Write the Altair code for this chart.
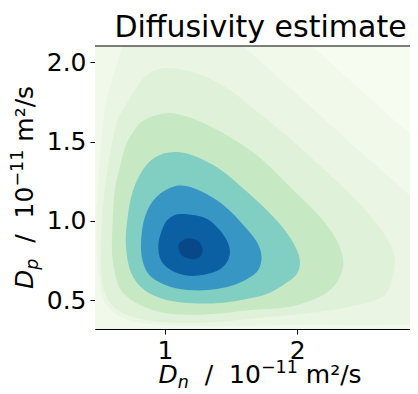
import altair as alt
import pandas as pd

# ---- data (data units: 1e-11 m^2/s) ----
x_domain = [0.471, 2.852]
y_domain = [0.319, 2.103]
x_ticks = [1, 2]
y_ticks = [0.5, 1.0, 1.5, 2.0]

background_color = "#f7fcf0"

# contour bands, outermost first
L8_x = [1.90, 2.096, 2.50, 2.912, 3.20, 3.20, 0.00, 0.00]
L8_y = [2.30, 2.115, 1.81, 1.504, 1.28, 0.00, 0.00, 2.30]

L7_x = [0.683, 0.75, 1.30, 1.590, 1.869, 2.497, 2.912, 3.15, 3.25, 3.10, 2.60, 2.00, 1.20, 0.75, 0.56, 0.506, 0.481, 0.494, 0.516, 0.554, 0.607]
L7_y = [2.115, 2.25, 2.30, 2.103, 1.895, 1.422, 1.113, 0.88, 0.60, 0.38, 0.345, 0.345, 0.338, 0.37, 0.47, 0.628, 0.943, 1.195, 1.485, 1.737, 1.907]

L6_x = [1.035, 1.287, 1.491, 1.642, 1.869, 2.071, 2.398, 2.599, 2.713, 2.738, 2.713, 2.647, 2.398, 2.071, 1.693, 1.441, 1.212, 0.937, 0.736, 0.610, 0.547, 0.519, 0.519, 0.544, 0.584, 0.635, 0.708, 0.859]
L6_y = [1.964, 1.916, 1.826, 1.727, 1.574, 1.426, 1.170, 0.985, 0.838, 0.733, 0.628, 0.523, 0.460, 0.418, 0.387, 0.366, 0.355, 0.366, 0.401, 0.460, 0.544, 0.670, 0.943, 1.191, 1.426, 1.616, 1.737, 1.916]

L5_x = [1.060, 1.239, 1.441, 1.693, 1.945, 2.171, 2.297, 2.348, 2.310, 2.196, 1.945, 1.642, 1.441, 1.212, 0.987, 0.811, 0.685, 0.635, 0.602, 0.602, 0.620, 0.660, 0.708, 0.811, 0.937]
L5_y = [1.679, 1.637, 1.553, 1.416, 1.216, 1.027, 0.880, 0.744, 0.628, 0.534, 0.460, 0.439, 0.418, 0.408, 0.422, 0.471, 0.544, 0.628, 0.775, 0.943, 1.191, 1.342, 1.485, 1.616, 1.668]

L4_x = [1.111, 1.264, 1.441, 1.617, 1.793, 1.932, 2.015, 2.000, 1.894, 1.768, 1.642, 1.441, 1.212, 1.013, 0.849, 0.746, 0.705, 0.715, 0.758, 0.849, 0.962]
L4_y = [1.433, 1.395, 1.311, 1.185, 1.048, 0.912, 0.775, 0.670, 0.597, 0.540, 0.513, 0.485, 0.481, 0.502, 0.561, 0.670, 0.838, 1.006, 1.191, 1.342, 1.416]

L3_x = [1.101, 1.264, 1.441, 1.592, 1.693, 1.730, 1.705, 1.642, 1.542, 1.390, 1.214, 1.038, 0.899, 0.836, 0.819, 0.849, 0.937]
L3_y = [1.223, 1.191, 1.101, 0.975, 0.870, 0.775, 0.691, 0.645, 0.603, 0.571, 0.563, 0.586, 0.645, 0.733, 0.859, 1.027, 1.153]

L2_x = [1.126, 1.290, 1.390, 1.466, 1.491, 1.453, 1.365, 1.214, 1.076, 0.975, 0.950, 0.987, 1.038]
L2_y = [1.044, 1.023, 0.964, 0.880, 0.796, 0.723, 0.676, 0.653, 0.676, 0.744, 0.849, 0.964, 1.021]

L1_x = [1.285, 1.255, 1.180, 1.120, 1.101, 1.130, 1.205, 1.265]
L1_y = [0.815, 0.870, 0.891, 0.870, 0.835, 0.780, 0.759, 0.775]

band_colors = ["#f1f9eb", "#eaf6e3", "#dff2d9", "#c6e9c3", "#81cec2", "#3896c5", "#0b60a4", "#084889"]
bands = [(L8_x, L8_y), (L7_x, L7_y), (L6_x, L6_y), (L5_x, L5_y),
         (L4_x, L4_y), (L3_x, L3_y), (L2_x, L2_y), (L1_x, L1_y)]

title_text = "Diffusivity estimate"

FONT = "DejaVu Sans"
W, H = 315, 283

x_enc = alt.X("x:Q", scale=alt.Scale(domain=x_domain, nice=False, zero=False),
              axis=alt.Axis(values=x_ticks, format="d", title=None))
y_enc = alt.Y("y:Q", scale=alt.Scale(domain=y_domain, nice=False, zero=False),
              axis=alt.Axis(values=y_ticks, format=".1f", title=None))

layers = []
for k, ((bx, by), col) in enumerate(zip(bands, band_colors)):
    df = pd.DataFrame({"x": bx, "y": by, "i": list(range(len(bx)))})
    interp = "linear-closed" if k == 0 else "cardinal-closed"
    layers.append(
        alt.Chart(df).mark_line(filled=True, interpolate=interp, clip=True,
                                color=col, strokeWidth=0)
        .encode(x=x_enc, y=y_enc, order=alt.Order("i:Q"))
    )

# top spine
layers.append(alt.Chart().mark_rule(color="#000", strokeWidth=1).encode(
    x=alt.value(0), x2=alt.value(W), y=alt.value(0)))


def txt(text, x, y, size=25, italic=False, angle=0, align="left"):
    kw = dict(font=FONT, fontSize=size, color="#000", align=align,
              baseline="alphabetic", angle=angle)
    if italic:
        kw["fontStyle"] = "italic"
    return alt.Chart().mark_text(**kw).encode(
        x=alt.value(x), y=alt.value(y), text=alt.value(text))


# title
layers.append(txt(title_text, 165.5, -8.7, size=30, align="center"))

# x axis title pieces
bx0, bl = 63.5, 337.3
layers += [
    txt("D", bx0, bl, italic=True),
    txt("n", bx0 + 19.3, bl + 4.5, size=17.5, italic=True),
    txt("/", bx0 + 46.3, bl),
    txt("10", bx0 + 70.6, bl),
    txt("\u221211", bx0 + 102.4, bl - 10, size=17.5),
    txt("m\u00b2/s", bx0 + 147.3, bl),
]

# y axis title pieces (rotated, reading upward)
yx, ys0 = -62, 243
layers += [
    txt("D", yx, ys0, italic=True, angle=270),
    txt("p", yx + 4.5, ys0 - 19.3, size=17.5, italic=True, angle=270),
    txt("/", yx, ys0 - 46.3, angle=270),
    txt("10", yx, ys0 - 70.6, angle=270),
    txt("\u221211", yx - 10, ys0 - 102.4, size=17.5, angle=270),
    txt("m\u00b2/s", yx, ys0 - 147.3, angle=270),
]

chart = (
    alt.layer(*layers)
    .properties(width=W, height=H,
                padding={"left": 87, "top": 38, "right": 0, "bottom": 65},
                autosize=alt.AutoSizeParams(type="none"))
    .configure_view(fill=background_color, stroke=None)
    .configure_axis(labelFont=FONT, labelFontSize=25, labelColor="#000",
                    tickColor="#000", domainColor="#000", tickSize=5,
                    tickWidth=1, domainWidth=1, labelPadding=4, grid=False,
                    labelFlush=False, labelOverlap=False)
)

chart.save("out.html", embed_options={"renderer": "svg", "actions": False})
